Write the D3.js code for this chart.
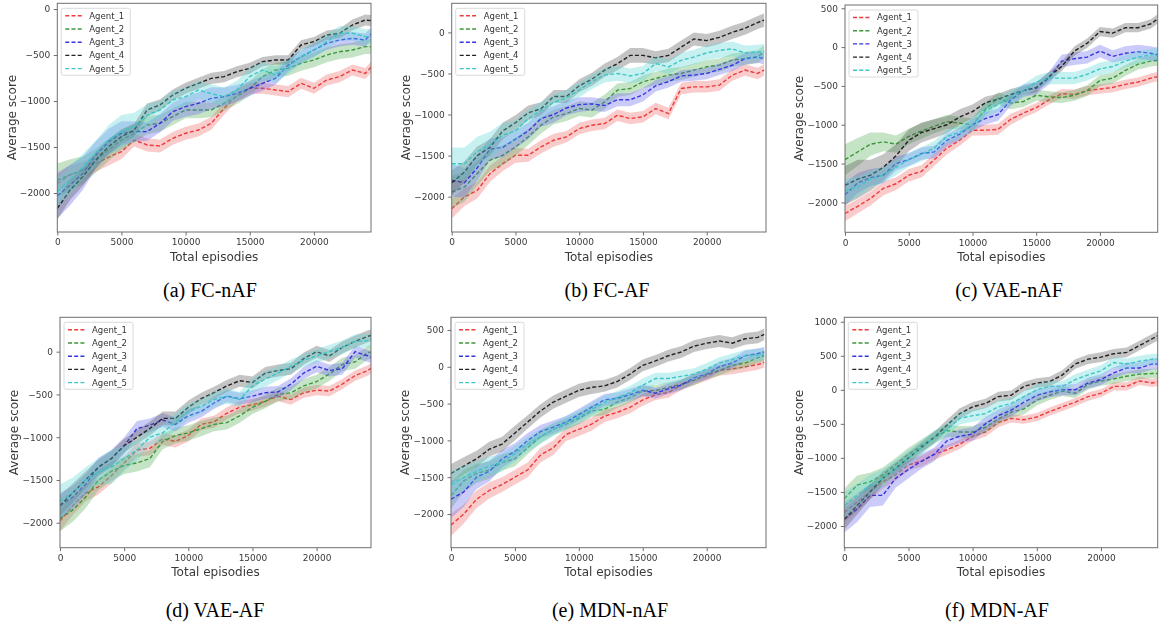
<!DOCTYPE html>
<html>
<head>
<meta charset="utf-8">
<script src="https://cdn.jsdelivr.net/npm/d3@7"></script>
<style>
  html, body { margin: 0; padding: 0; background: #ffffff; }
  svg { display: block; }
</style>
</head>
<body>
<script>
// ---------------- DATA ----------------
const X_EPISODES = [0,1000,2000,3000,4000,5000,6000,7000,8000,9000,10000,11000,12000,13000,14000,15000,16000,17000,18000,19000,20000,21000,22000,23000,24000,24500];
const AGENTS = ["Agent_1","Agent_2","Agent_3","Agent_4","Agent_5"];
const CAPTIONS = ["(a) FC-nAF","(b) FC-AF","(c) VAE-nAF","(d) VAE-AF","(e) MDN-nAF","(f) MDN-AF"];
const X_TICKS = [0,5000,10000,15000,20000];
const Y_TICKS_A = [0,-500,-1000,-1500,-2000];
const Y_TICKS_B = [0,-500,-1000,-1500,-2000];
const Y_TICKS_C = [500,0,-500,-1000,-1500,-2000];
const Y_TICKS_D = [0,-500,-1000,-1500,-2000];
const Y_TICKS_E = [500,0,-500,-1000,-1500,-2000];
const Y_TICKS_F = [1000,500,0,-500,-1000,-1500,-2000];
const X_LABEL = "Total episodies";
const Y_LABEL = "Average score";

// (a) FC-nAF : mean scores
const FCnAF_1 = [-1895,-1800,-1750,-1680,-1610,-1550,-1425,-1478,-1489,-1406,-1351,-1315,-1243,-1080,-935,-862,-862,-880,-898,-808,-862,-772,-735,-663,-700,-627];
const FCnAF_2 = [-1859,-1804,-1750,-1650,-1530,-1424,-1351,-1261,-1243,-1170,-1098,-1098,-1098,-1025,-953,-862,-735,-663,-645,-590,-554,-500,-464,-446,-409,-409];
const FCnAF_3 = [-2030,-1913,-1786,-1587,-1442,-1351,-1333,-1333,-1243,-1116,-1061,-1025,-971,-953,-917,-862,-808,-754,-609,-518,-446,-373,-337,-319,-337,-264];
const FCnAF_4 = [-2167,-1967,-1822,-1641,-1496,-1388,-1315,-1098,-1043,-935,-862,-808,-754,-735,-681,-645,-572,-554,-554,-391,-355,-283,-264,-174,-120,-127];
const FCnAF_5 = [-1985,-1859,-1714,-1569,-1424,-1333,-1279,-1152,-1098,-989,-953,-880,-920,-953,-880,-735,-663,-717,-627,-518,-446,-355,-264,-264,-300,-300];
// (a) band half-widths
const FCnAF_1_sd = [100,100,90,90,90,80,70,70,70,70,70,70,70,70,70,60,60,60,60,60,60,60,60,60,60,60];
const FCnAF_2_sd = [180,170,150,130,120,110,100,100,90,90,90,90,80,80,80,80,80,80,80,80,80,80,80,80,80,80];
const FCnAF_3_sd = [250,220,180,150,140,130,110,100,100,100,110,120,120,100,90,80,80,70,70,70,70,70,70,70,70,70];
const FCnAF_4_sd = [120,110,100,90,80,80,70,70,60,60,60,60,60,60,60,60,50,50,50,50,50,50,50,60,60,60];
const FCnAF_5_sd = [150,150,140,140,160,180,150,120,100,100,100,100,100,100,100,100,90,90,80,80,80,80,80,80,80,80];

// (b) FC-AF
const FCAF_1 = [-2146,-2004,-1923,-1720,-1598,-1496,-1496,-1394,-1313,-1272,-1171,-1130,-1110,-1008,-1049,-1028,-927,-988,-683,-663,-663,-642,-520,-459,-500,-459];
const FCAF_2 = [-1943,-1882,-1720,-1557,-1496,-1394,-1272,-1130,-1028,-988,-927,-947,-845,-703,-683,-602,-561,-520,-500,-459,-419,-398,-337,-317,-297,-236];
const FCAF_3 = [-1800,-1830,-1650,-1420,-1400,-1300,-1200,-1050,-1000,-920,-880,-870,-890,-820,-820,-760,-650,-600,-530,-520,-500,-450,-400,-320,-300,-320];
const FCAF_4 = [-1830,-1700,-1500,-1400,-1200,-1100,-980,-930,-780,-780,-650,-570,-460,-380,-280,-280,-310,-280,-180,-80,-100,-60,0,50,120,150];
const FCAF_5 = [-1600,-1600,-1450,-1370,-1250,-1200,-1050,-950,-850,-800,-700,-600,-520,-500,-530,-500,-380,-420,-340,-300,-250,-220,-200,-250,-240,-230];
const FCAF_1_sd = [120,110,100,100,90,90,80,80,80,70,70,70,70,70,70,70,70,70,70,70,70,70,70,70,70,70];
const FCAF_2_sd = [200,180,150,130,120,110,100,100,90,90,90,90,90,80,80,80,80,80,80,80,80,80,80,80,80,80];
const FCAF_3_sd = [200,180,160,130,120,110,100,100,100,90,90,80,80,80,80,80,70,70,70,70,70,70,70,70,70,70];
const FCAF_4_sd = [150,130,110,100,100,90,90,80,80,80,80,80,80,80,90,90,80,80,80,80,80,80,80,80,80,80];
const FCAF_5_sd = [200,200,180,160,150,130,110,100,100,100,90,90,90,90,90,90,90,90,90,90,90,90,90,90,90,90];

// (c) VAE-nAF
const VAEnAF_1 = [-2143,-2050,-1950,-1820,-1760,-1650,-1600,-1450,-1300,-1200,-1070,-1070,-1060,-930,-850,-780,-680,-600,-610,-560,-540,-520,-480,-450,-400,-380];
const VAEnAF_2 = [-1450,-1350,-1250,-1220,-1250,-1150,-1080,-1020,-960,-980,-1000,-800,-660,-720,-700,-620,-640,-650,-620,-560,-430,-400,-300,-220,-180,-170];
const VAEnAF_3 = [-1900,-1750,-1680,-1650,-1500,-1450,-1370,-1350,-1200,-1120,-1000,-920,-870,-680,-560,-530,-400,-180,-150,-130,-50,-120,-80,-60,-80,-100];
const VAEnAF_4 = [-1780,-1700,-1650,-1550,-1400,-1200,-1100,-1050,-1000,-900,-830,-720,-670,-610,-560,-520,-380,-250,-50,50,200,180,250,250,300,360];
const VAEnAF_5 = [-1850,-1800,-1700,-1650,-1550,-1450,-1380,-1300,-1150,-1100,-1000,-820,-740,-640,-560,-450,-400,-400,-400,-350,-280,-250,-180,-130,-100,-80];
const VAEnAF_1_sd = [100,90,90,90,80,80,80,80,80,70,70,70,70,70,60,60,60,60,60,60,60,60,60,60,60,60];
const VAEnAF_2_sd = [200,180,150,120,110,100,100,90,90,80,80,80,80,80,70,70,70,70,70,70,70,70,70,70,70,70];
const VAEnAF_3_sd = [150,130,110,100,90,80,80,80,80,80,80,80,80,80,80,80,80,80,80,80,80,80,90,90,90,90];
const VAEnAF_4_sd = [250,250,200,170,150,140,130,120,110,100,90,80,70,70,60,60,60,60,60,60,60,60,60,60,60,60];
const VAEnAF_5_sd = [150,130,110,100,100,90,90,90,90,90,90,90,90,90,80,80,80,80,80,80,80,80,80,80,80,80];

// (d) VAE-AF
const VAEAF_1 = [-1980,-1800,-1650,-1580,-1450,-1300,-1150,-1130,-1020,-1050,-980,-850,-820,-720,-650,-620,-580,-520,-560,-480,-450,-460,-380,-280,-220,-170];
const VAEAF_2 = [-1950,-1850,-1700,-1500,-1400,-1330,-1300,-1250,-1050,-980,-950,-900,-850,-830,-750,-650,-580,-500,-480,-400,-350,-260,-150,-120,-10,0];
const VAEAF_3 = [-1800,-1700,-1550,-1350,-1250,-1100,-900,-860,-800,-850,-750,-700,-600,-520,-550,-520,-480,-470,-380,-250,-170,-220,-200,0,-50,-80];
const VAEAF_4 = [-1800,-1650,-1500,-1350,-1250,-1100,-1000,-900,-780,-780,-650,-550,-480,-400,-340,-360,-250,-220,-200,-80,0,-50,50,120,180,200];
const VAEAF_5 = [-1750,-1650,-1500,-1400,-1350,-1250,-1150,-1000,-950,-820,-700,-640,-560,-520,-560,-400,-320,-250,-170,-100,-50,0,50,120,130,150];
const VAEAF_1_sd = [120,110,100,90,90,80,80,80,70,70,70,70,70,70,70,70,60,60,60,60,60,60,60,60,60,60];
const VAEAF_2_sd = [150,140,130,120,110,100,100,100,90,90,90,90,80,80,80,80,80,80,80,80,80,80,80,80,80,80];
const VAEAF_3_sd = [150,130,120,110,100,100,90,80,80,80,80,70,70,70,70,70,70,70,70,70,70,70,70,70,70,70];
const VAEAF_4_sd = [120,110,100,90,90,80,80,80,80,80,80,70,70,70,70,70,70,70,70,70,70,70,70,70,70,70];
const VAEAF_5_sd = [200,180,150,150,200,150,120,100,100,100,90,90,90,90,90,90,90,80,80,80,80,80,80,80,80,80];

// (e) MDN-nAF
const MDNnAF_1 = [-2150,-2000,-1800,-1680,-1600,-1500,-1400,-1200,-1100,-920,-850,-780,-670,-620,-550,-450,-380,-350,-250,-180,-120,-50,-30,0,30,60];
const MDNnAF_2 = [-1750,-1550,-1450,-1400,-1300,-1250,-1100,-950,-850,-780,-700,-600,-580,-480,-420,-330,-320,-280,-240,-180,-100,-50,20,50,120,150];
const MDNnAF_3 = [-1800,-1700,-1500,-1420,-1250,-1150,-1000,-880,-820,-750,-650,-550,-450,-430,-380,-320,-360,-300,-250,-150,-100,0,50,150,180,200];
const MDNnAF_4 = [-1450,-1350,-1250,-1120,-1050,-900,-750,-600,-480,-400,-320,-280,-260,-200,-100,20,80,150,200,280,320,350,320,380,400,440];
const MDNnAF_5 = [-1600,-1500,-1420,-1350,-1300,-1180,-1050,-950,-850,-760,-680,-580,-480,-420,-350,-250,-160,-160,-130,-100,-30,50,100,150,160,170];
const MDNnAF_1_sd = [150,130,120,110,100,100,100,100,100,90,90,90,80,80,80,80,70,70,70,70,70,70,70,70,70,70];
const MDNnAF_2_sd = [180,150,130,120,110,100,90,90,80,80,80,80,80,80,70,70,70,70,70,70,70,70,70,70,70,70];
const MDNnAF_3_sd = [250,200,160,140,120,110,100,90,90,80,80,80,80,80,80,80,70,70,70,70,70,70,70,70,70,70];
const MDNnAF_4_sd = [130,120,110,100,100,100,90,90,90,90,90,90,80,80,80,80,80,80,80,80,80,80,80,80,80,80];
const MDNnAF_5_sd = [180,160,140,130,120,110,100,100,90,90,90,90,90,90,90,90,80,80,80,80,80,80,80,80,80,80];

// (f) MDN-AF
const MDNAF_1 = [-1800,-1650,-1500,-1350,-1250,-1100,-1050,-950,-880,-800,-680,-620,-480,-420,-440,-400,-320,-250,-180,-100,-50,50,50,130,100,120];
const MDNAF_2 = [-1600,-1400,-1350,-1250,-1100,-950,-820,-700,-600,-620,-620,-550,-430,-330,-280,-150,-80,-20,-50,80,130,160,200,230,240,240];
const MDNAF_3 = [-1900,-1750,-1550,-1550,-1300,-1170,-1050,-950,-750,-680,-650,-500,-380,-300,-180,-80,-30,0,0,100,150,250,320,320,380,380];
const MDNAF_4 = [-1900,-1700,-1500,-1300,-1150,-1000,-850,-700,-520,-350,-250,-200,-100,-80,50,100,120,220,380,450,480,530,550,650,750,800];
const MDNAF_5 = [-1700,-1550,-1400,-1300,-1150,-1000,-850,-700,-580,-420,-380,-350,-250,-200,-100,0,50,50,150,220,280,400,380,420,450,450];
const MDNAF_1_sd = [150,130,110,100,90,80,80,80,70,70,70,70,70,60,60,60,60,60,60,60,60,60,60,60,60,60];
const MDNAF_2_sd = [150,140,130,110,100,100,90,90,90,90,90,80,80,80,80,80,70,70,70,70,70,70,70,70,70,70];
const MDNAF_3_sd = [200,190,170,150,140,130,110,100,100,100,100,100,90,90,90,90,80,80,80,80,80,80,80,80,80,80];
const MDNAF_4_sd = [150,130,110,100,90,80,80,80,80,80,70,70,70,70,70,70,70,70,70,70,70,70,70,70,70,70];
const MDNAF_5_sd = [200,170,150,130,120,110,100,100,90,90,90,90,90,80,80,80,80,80,80,80,80,80,80,80,80,80];

// ---------------- ASSEMBLY ----------------
const PANELS = [
  { caption: CAPTIONS[0], yTicks: Y_TICKS_A, means: [FCnAF_1,FCnAF_2,FCnAF_3,FCnAF_4,FCnAF_5], sds: [FCnAF_1_sd,FCnAF_2_sd,FCnAF_3_sd,FCnAF_4_sd,FCnAF_5_sd] },
  { caption: CAPTIONS[1], yTicks: Y_TICKS_B, means: [FCAF_1,FCAF_2,FCAF_3,FCAF_4,FCAF_5], sds: [FCAF_1_sd,FCAF_2_sd,FCAF_3_sd,FCAF_4_sd,FCAF_5_sd] },
  { caption: CAPTIONS[2], yTicks: Y_TICKS_C, means: [VAEnAF_1,VAEnAF_2,VAEnAF_3,VAEnAF_4,VAEnAF_5], sds: [VAEnAF_1_sd,VAEnAF_2_sd,VAEnAF_3_sd,VAEnAF_4_sd,VAEnAF_5_sd] },
  { caption: CAPTIONS[3], yTicks: Y_TICKS_D, means: [VAEAF_1,VAEAF_2,VAEAF_3,VAEAF_4,VAEAF_5], sds: [VAEAF_1_sd,VAEAF_2_sd,VAEAF_3_sd,VAEAF_4_sd,VAEAF_5_sd] },
  { caption: CAPTIONS[4], yTicks: Y_TICKS_E, means: [MDNnAF_1,MDNnAF_2,MDNnAF_3,MDNnAF_4,MDNnAF_5], sds: [MDNnAF_1_sd,MDNnAF_2_sd,MDNnAF_3_sd,MDNnAF_4_sd,MDNnAF_5_sd] },
  { caption: CAPTIONS[5], yTicks: Y_TICKS_F, means: [MDNAF_1,MDNAF_2,MDNAF_3,MDNAF_4,MDNAF_5], sds: [MDNAF_1_sd,MDNAF_2_sd,MDNAF_3_sd,MDNAF_4_sd,MDNAF_5_sd] }
];

// layout (pixel boxes and axis limits), kept apart from the data
const LAYOUT = [
  { left: 57.3,  right: 371,    top: 3.3,   bottom: 232,   xMax: 24450, yMin: -2424, yMax: 62,   capX: 210,  capY: 296.5 },
  { left: 451.7, right: 766,    top: 3.3,   bottom: 232,   xMax: 24650, yMin: -2430, yMax: 354,  capX: 607,  capY: 296.5 },
  { left: 845,   right: 1157.7, top: 5,     bottom: 232.3, xMax: 24530, yMin: -2385, yMax: 542,  capX: 1009, capY: 296.5 },
  { left: 60,    right: 371,    top: 317.3, bottom: 547.7, xMax: 24240, yMin: -2292, yMax: 402,  capX: 215,  capY: 616.5 },
  { left: 451,   right: 766,    top: 317.3, bottom: 547.7, xMax: 24640, yMin: -2458, yMax: 672,  capX: 610,  capY: 616.5 },
  { left: 844.3, right: 1157.7, top: 317.3, bottom: 547.7, xMax: 24420, yMin: -2319, yMax: 1065, capX: 997,  capY: 616.5 }
];

const LINE_COLORS = ["#ee3a3a", "#3a983a", "#3535e0", "#202020", "#3cc6c6"];
const BAND_COLORS = ["#f06a6a", "#5cb05c", "#6a6af0", "#555555", "#5fd6d6"];
const BAND_OPACITY = [0.35, 0.35, 0.35, 0.35, 0.35];

const fmt = v => (v < 0 ? "\u2212" + Math.abs(v) : String(v));

const W = 1161, H = 622;
const svg = d3.select("body").append("svg").attr("width", W).attr("height", H);
const defs = svg.append("defs");
defs.append("filter").attr("id", "soft").attr("x", "-5%").attr("y", "-5%").attr("width", "110%").attr("height", "110%")
  .append("feGaussianBlur").attr("stdDeviation", 0.45);

const FONT = "DejaVu Sans, Verdana, sans-serif";

PANELS.forEach((p, i) => {
  const L = LAYOUT[i];
  const x = d3.scaleLinear().domain([0, L.xMax]).range([L.left, L.right]);
  const y = d3.scaleLinear().domain([L.yMin, L.yMax]).range([L.bottom, L.top]);

  const g = svg.append("g").attr("filter", "url(#soft)");

  defs.append("clipPath").attr("id", "clip" + i)
    .append("rect").attr("x", L.left).attr("y", L.top)
    .attr("width", L.right - L.left).attr("height", L.bottom - L.top);

  const plot = g.append("g").attr("clip-path", `url(#clip${i})`);

  AGENTS.forEach((name, a) => {
    const m = p.means[a], s = p.sds[a];
    const area = d3.area()
      .x((d, j) => x(X_EPISODES[j]))
      .y0((d, j) => y(m[j] - s[j]))
      .y1((d, j) => y(m[j] + s[j]))
      .curve(d3.curveLinear);
    plot.append("path").datum(m).attr("d", area)
      .attr("fill", BAND_COLORS[a]).attr("fill-opacity", BAND_OPACITY[a]).attr("stroke", "none");
    const line = d3.line().x((d, j) => x(X_EPISODES[j])).y(d => y(d));
    plot.append("path").datum(m).attr("d", line)
      .attr("fill", "none").attr("stroke", LINE_COLORS[a])
      .attr("stroke-width", 1.4).attr("stroke-dasharray", "4,2.2");
  });

  // frame
  g.append("rect").attr("x", L.left).attr("y", L.top)
    .attr("width", L.right - L.left).attr("height", L.bottom - L.top)
    .attr("fill", "none").attr("stroke", "#6e6e6e").attr("stroke-width", 1);

  // axes
  const xa = g.append("g").attr("transform", `translate(0,${L.bottom})`)
    .call(d3.axisBottom(x).tickValues(X_TICKS).tickFormat(fmt).tickSize(3.5).tickPadding(3.5));
  const ya = g.append("g").attr("transform", `translate(${L.left},0)`)
    .call(d3.axisLeft(y).tickValues(p.yTicks).tickFormat(fmt).tickSize(3.5).tickPadding(3.5));
  [xa, ya].forEach(ax => {
    ax.select(".domain").remove();
    ax.selectAll("line").attr("stroke", "#6e6e6e");
    ax.selectAll("text").attr("fill", "#3a3a3a").style("font-family", FONT).style("font-size", "9px");
  });

  // axis titles
  g.append("text").attr("x", (L.left + L.right) / 2).attr("y", L.bottom + 28.5)
    .attr("text-anchor", "middle").attr("fill", "#3a3a3a")
    .style("font-family", FONT).style("font-size", "12px").text(X_LABEL);
  const cy = (L.top + L.bottom) / 2;
  g.append("text").attr("transform", `translate(${L.left - 46},${cy}) rotate(-90)`)
    .attr("text-anchor", "middle").attr("dy", "0.35em").attr("fill", "#3a3a3a")
    .style("font-family", FONT).style("font-size", "12px").text(Y_LABEL);

  // legend
  const lg = g.append("g").attr("transform", `translate(${L.left + 4},${L.top + 5})`);
  lg.append("rect").attr("width", 69).attr("height", 67).attr("rx", 2)
    .attr("fill", "#ffffff").attr("fill-opacity", 0.85)
    .attr("stroke", "#d0d0d0").attr("stroke-width", 0.8);
  AGENTS.forEach((name, a) => {
    const ry = 7.5 + a * 13.2;
    lg.append("line").attr("x1", 4).attr("x2", 22).attr("y1", ry).attr("y2", ry)
      .attr("stroke", LINE_COLORS[a]).attr("stroke-width", 1.4).attr("stroke-dasharray", "4,2.2");
    lg.append("text").attr("x", 28).attr("y", ry).attr("dy", "0.35em")
      .attr("fill", "#333").style("font-family", FONT).style("font-size", "8.5px").text(name);
  });

  // caption
  svg.append("text").attr("x", L.capX).attr("y", L.capY).attr("text-anchor", "middle")
    .attr("fill", "#000").style("font-family", "Liberation Serif, Times New Roman, serif")
    .style("font-size", "20px").text(p.caption);
});
</script>
</body>
</html>
